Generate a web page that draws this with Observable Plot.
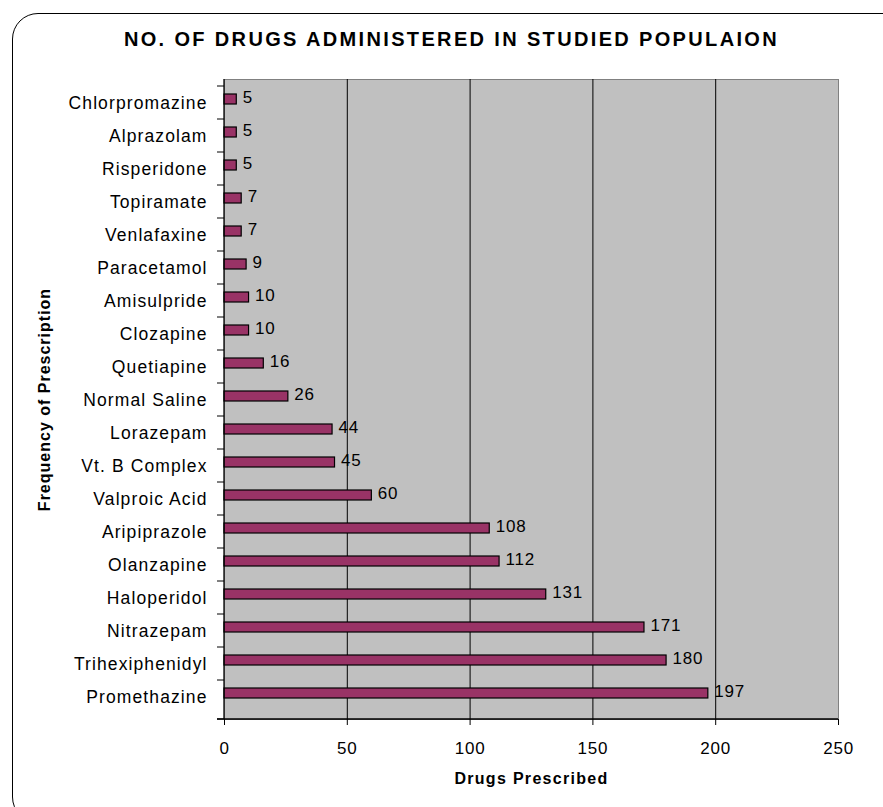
<!DOCTYPE html>
<html>
<head>
<meta charset="utf-8">
<script src="https://cdn.jsdelivr.net/npm/d3@7"></script>
<script src="https://cdn.jsdelivr.net/npm/@observablehq/plot@0.6"></script>
<style>
  html, body { margin: 0; padding: 0; background: #fff; }
  body { width: 883px; height: 807px; overflow: hidden; position: relative; font-family: "Liberation Sans", Arial, sans-serif; }
  #border { position: absolute; left: 12px; top: 13px; width: 900px; height: 810px; border: 1.3px solid #000; border-radius: 26px; box-sizing: border-box; }
  #title { position: absolute; left: 0; width: 903px; top: 29px; text-align: center; font-weight: bold; font-size: 20px; letter-spacing: 2.35px; line-height: 1; color: #000; }
  #chart { position: absolute; left: 0; top: 0; }
  g[aria-label="y-axis tick label"] text { letter-spacing: 1.1px; }
  g[aria-label="x-axis tick label"] text { letter-spacing: 0.8px; }
  g[aria-label="x-axis label"] text { letter-spacing: 1.3px; }
  g[aria-label="y-axis label"] text { letter-spacing: 1.0px; }
  g[aria-label="text"] text { letter-spacing: 0.8px; }
</style>
</head>
<body>
<div id="border"></div>
<div id="title">NO. OF DRUGS ADMINISTERED IN STUDIED POPULAION</div>
<div id="chart"></div>
<script>
const drugs = ["Chlorpromazine","Alprazolam","Risperidone","Topiramate","Venlafaxine","Paracetamol","Amisulpride","Clozapine","Quetiapine","Normal Saline","Lorazepam","Vt. B Complex","Valproic Acid","Aripiprazole","Olanzapine","Haloperidol","Nitrazepam","Trihexiphenidyl","Promethazine"];
const counts = [5,5,5,7,7,9,10,10,16,26,44,45,60,108,112,131,171,180,197];
const xTicks = [0,50,100,150,200,250];
const gridValues = [50,100,150,200];

const data = drugs.map((d, i) => ({drug: d, value: counts[i]}));

// boundary ticks on the category axis (Excel style) + baseline
function categoryTicks(index, scales, values, dimensions) {
  const g = d3.create("svg:g").attr("aria-label", "category ticks");
  const x0 = scales.x(0);
  const x1 = scales.x(250);
  const bottom = dimensions.height - dimensions.marginBottom;
  const ys = drugs.map(d => scales.y(d)).concat([bottom]);
  for (const y of ys) {
    g.append("line").attr("x1", x0 - 7).attr("x2", x0).attr("y1", y).attr("y2", y)
      .attr("stroke", "#000").attr("stroke-width", 1);
  }
  g.append("line").attr("x1", x0 - 7).attr("x2", x1).attr("y1", bottom).attr("y2", bottom)
    .attr("stroke", "#000").attr("stroke-width", 1.3);
  g.append("line").attr("x1", x0).attr("x2", x0).attr("y1", dimensions.marginTop).attr("y2", bottom)
    .attr("stroke", "#000").attr("stroke-width", 1.3);
  return g.node();
}

const chart = Plot.plot({
  width: 883,
  height: 807,
  marginLeft: 224,
  marginRight: 45,
  marginTop: 79,
  marginBottom: 88,
  style: {fontFamily: "'Liberation Sans', Arial, sans-serif", fontSize: "17px", background: "transparent", color: "#000"},
  x: {domain: [0, 250]},
  y: {domain: drugs, padding: 0},
  marks: [
    Plot.frame({fill: "#c0c0c0", stroke: "#808080", strokeWidth: 1}),
    Plot.ruleX(gridValues, {stroke: "#000", strokeWidth: 1}),
    Plot.barX(data, {x: "value", y: "drug", fill: "#993366", stroke: "#000", strokeWidth: 1.2, insetTop: 8, insetBottom: 15}),
    Plot.text(data, {x: "value", y: "drug", text: "value", textAnchor: "start", dx: 6, dy: -5, fontSize: 17, fill: "#000"}),
    Plot.axisX({ticks: xTicks, tickSize: 6, tickPadding: 16, fontSize: 17, tickFormat: d => String(d), label: "Drugs Prescribed", labelAnchor: "center", labelOffset: 64}),
    Plot.axisY({tickSize: 0, tickPadding: 17, fontSize: 17.5, label: "Frequency of Prescription", labelAnchor: "center", labelOffset: 186}),
    categoryTicks
  ]
});
document.getElementById("chart").appendChild(chart);
// bold axis titles, no arrow
chart.querySelectorAll('g[aria-label="x-axis label"] text').forEach(t => { t.textContent = "Drugs Prescribed"; });
chart.querySelectorAll('g[aria-label="y-axis label"] text').forEach(t => { t.textContent = "Frequency of Prescription"; });
chart.querySelectorAll('g[aria-label="x-axis label"] text, g[aria-label="y-axis label"] text').forEach(t => {
  t.setAttribute("font-weight", "bold");
  t.setAttribute("font-size", "16px");
});
</script>
</body>
</html>
